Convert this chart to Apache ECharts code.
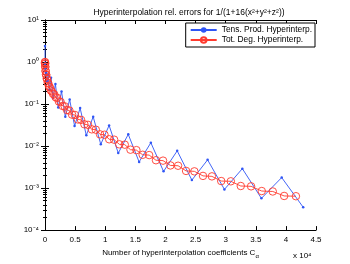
<!DOCTYPE html>
<html><head><meta charset="utf-8">
<script src="https://cdn.jsdelivr.net/npm/echarts@6/dist/echarts.min.js"></script>
<style>html,body{margin:0;padding:0;background:#fff}#c{width:350px;height:264px}</style>
</head><body><div id="c"></div>
<script>
const titleText = 'Hyperinterpolation rel. errors for 1/(1+16(x²+y²+z²))';
const seriesNames = ['Tens. Prod. Hyperinterp.', 'Tot. Deg. Hyperinterp.'];
const xTicks = [0, 5000, 10000, 15000, 20000, 25000, 30000, 35000, 40000, 45000];
const yTicks = [1e-4, 1e-3, 1e-2, 1e-1, 1, 10];
const tensX = [1,8,27,64,125,216,343,512,729,1000,1331,1728,2197,2744,3375,4096,4913,5832,6859,8000,9261,10648,12167,13824,15625,17576,19683,21952,24389,27000,29791,32768,35937,39304,42875];
const tensY = [2.4,0.9,0.6,0.7,0.5,0.55,0.35,0.5,0.22,0.42,0.14,0.3,0.083,0.2,0.05,0.128,0.03,0.08,0.018,0.05,0.011,0.031,0.0068,0.019,0.0042,0.012,0.0025,0.0077,0.00155,0.0047,0.00093,0.0029,0.00057,0.00178,0.00035];
const totX = [1,4,10,20,35,56,84,120,165,220,286,364,455,560,680,816,969,1140,1330,1540,1771,2024,2300,2600,2925,3276,3654,4060,4495,4960,5456,5984,6545,7140,7770,8436,9139,9880,10660,11480,12341,13244,14190,15180,16215,17296,18424,19600,20825,22100,23426,24804,26235,27720,29260,30856,32509,34220,35990,37820,39711,41664];
const totY = [1.0,0.98,0.92,0.9,0.78,0.76,0.62,0.6,0.5,0.49,0.40,0.39,0.32,0.31,0.26,0.25,0.21,0.2,0.175,0.17,0.145,0.14,0.115,0.112,0.09,0.088,0.072,0.07,0.056,0.055,0.043,0.042,0.033,0.032,0.025,0.0245,0.019,0.0186,0.0145,0.0142,0.011,0.0108,0.0082,0.0080,0.0062,0.0061,0.0046,0.0045,0.00346,0.0034,0.00256,0.0025,0.00195,0.0019,0.00147,0.00145,0.00112,0.0011,0.00085,0.00083,0.00065,0.00064];

const sup = {'-':'⁻','0':'⁰','1':'¹','2':'²','3':'³','4':'⁴','5':'⁵','6':'⁶','7':'⁷','8':'⁸','9':'⁹'};
function logLabel(v){ const e = String(Math.round(Math.log10(v))); return '10' + e.split('').map(c=>sup[c]).join(''); }
const FONT = 'Liberation Sans';
const chart = echarts.init(document.getElementById('c'), null, {renderer:'canvas'});
const axisCommon = {
  axisLine:{show:true, lineStyle:{color:'#000', width:1}},
  axisTick:{show:true, inside:true, length:4, lineStyle:{color:'#000'}},
  splitLine:{show:false}
};
chart.setOption({
  animation:false,
  backgroundColor:'#fff',
  title:{text:titleText, left:184, top:3, textAlign:'center',
    textStyle:{fontFamily:FONT, fontSize:8.5, fontWeight:'normal', color:'#000'}},
  legend:{
    data:seriesNames, orient:'vertical', right:35, top:23,
    backgroundColor:'#fff', borderColor:'#000', borderWidth:1, padding:[3,3,3,4],
    itemGap:2, itemWidth:26, itemHeight:7,
    textStyle:{fontFamily:FONT, fontSize:8.4, color:'#000'}
  },
  grid:{left:45, right:34, top:20, bottom:30},
  xAxis:[
    Object.assign({type:'value', min:0, max:45000, interval:5000, position:'bottom',
      axisLabel:{fontFamily:FONT, fontSize:8, color:'#000', margin:6, formatter:v=>String(v/10000)},
      name:'Number of hyperinterpolation coefficients {s|C}{sub|α}', nameLocation:'middle', nameGap:13,
      nameTextStyle:{fontFamily:FONT, fontSize:8, color:'#000',
        rich:{s:{fontFamily:FONT, fontSize:8, color:'#000'}, sub:{fontFamily:FONT, fontSize:6, color:'#000', padding:[6,0,0,0]}}}
    }, axisCommon),
    Object.assign({type:'value', min:0, max:45000, interval:5000, position:'top', axisLabel:{show:false}}, axisCommon)
  ],
  yAxis:[
    Object.assign({type:'log', min:1e-4, max:10, logBase:10, position:'left',
      axisLabel:{fontFamily:FONT, fontSize:8, color:'#000', margin:6, formatter:v=>logLabel(v)},
      minorTick:{show:true, splitNumber:9, length:2, lineStyle:{color:'#000'}}
    }, axisCommon),
    Object.assign({type:'log', min:1e-4, max:10, logBase:10, position:'right', axisLabel:{show:false},
      minorTick:{show:true, splitNumber:9, length:2, lineStyle:{color:'#000'}}}, axisCommon)
  ],
  graphic:[{type:'text', left:293, top:252, style:{text:'x 10⁴', fontFamily:FONT, fontSize:8, fill:'#000'}}],
  series:[
    {name:seriesNames[0], type:'line', xAxisIndex:0, yAxisIndex:0,
     data:tensX.map((x,i)=>[x,tensY[i]]), symbol:'circle', symbolSize:2.5, showSymbol:true,
     lineStyle:{color:'#2f55f5', width:0.9}, itemStyle:{color:'#2f55f5'}},
    {name:seriesNames[1], type:'line', xAxisIndex:0, yAxisIndex:0,
     data:totX.map((x,i)=>[x,totY[i]]), symbol:'circle', symbolSize:7.5, showSymbol:true,
     lineStyle:{color:'#ff3b2f', width:0.9}, itemStyle:{color:'rgba(0,0,0,0)', borderColor:'#ff3b2f', borderWidth:0.9}}
  ]
});
</script></body></html>
